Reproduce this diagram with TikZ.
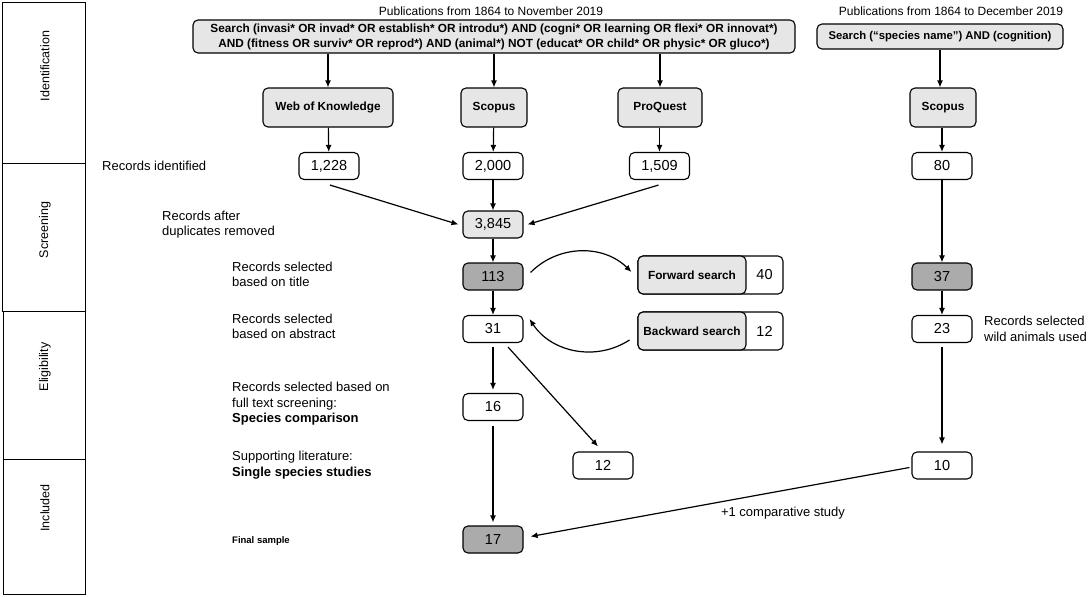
\documentclass[tikz,border=0pt]{standalone}
\usepackage{fontspec}
\setmainfont{Liberation Sans}
\usetikzlibrary{arrows.meta, calc}
\definecolor{lightbox}{HTML}{E6E6E6}
\definecolor{darkbox}{HTML}{ABABAB}

\begin{document}
\begin{tikzpicture}[x=1pt, y=-1pt, >={Latex[length=7pt,width=6pt]},
    box/.style={draw, rounded corners=5pt, line width=1.1pt, align=center, inner sep=2pt},
    graybox/.style={box, fill=lightbox, font=\bfseries\fontsize{11.8}{15}\selectfont},
    numbox/.style={box, fill=white, minimum width=60, minimum height=27,
                   font=\fontsize{14.5}{16}\selectfont},
    note/.style={anchor=west, align=left, inner sep=0pt, font=\fontsize{13}{15.5}\selectfont},
    stagelabel/.style={rotate=90, inner sep=0pt, font=\fontsize{12.5}{15}\selectfont},
    arr/.style={->, line width=1.2pt}]
  \useasboundingbox (0,0) rectangle (1088,597);

  % stages
  \draw[line width=0.8pt] (2,2) rectangle (85,163) (2,163) rectangle (85,311)
        (3,311) rectangle (85,459) (3,459) rectangle (85,594);
  \node[stagelabel] (sid) at (45,66)  {Identification};
  \node[stagelabel] (ssc) at (45,230) {Screening};
  \node[stagelabel] (sel) at (45,367) {Eligibility};
  \node[stagelabel] (sin) at (45,508) {Included};

  % searches
  \node[inner sep=0pt, font=\fontsize{12}{14}\selectfont] (pub) at (491,11) {Publications from 1864 to November 2019};
  \node[inner sep=0pt, font=\fontsize{12}{14}\selectfont] (pub2) at (951,11) {Publications from 1864 to December 2019};
  \node[graybox, minimum width=602, minimum height=33] (search) at (494,36.5)
    {Search (invasi* OR invad* OR establish* OR introdu*) AND (cogni* OR learning OR flexi* OR innovat*)\\
     AND (fitness OR surviv* OR reprod*) AND (animal*) NOT (educat* OR child* OR physic* OR gluco*)};
  \node[graybox, minimum width=246, minimum height=25, font=\bfseries\fontsize{11.3}{14}\selectfont] (search2) at (940,36.5)
    {Search (“species name”) AND (cognition)};

  % databases
  \node[graybox, minimum width=130, minimum height=39] (wok)      at (328,107.5) {Web of Knowledge};
  \node[graybox, minimum width=66,  minimum height=39] (scopus)   at (494,107.5) {Scopus};
  \node[graybox, minimum width=84,  minimum height=39] (proquest) at (660,107.5) {ProQuest};
  \node[graybox, minimum width=66,  minimum height=39] (scopus2)  at (943,107.5) {Scopus};

  % counts
  \node[numbox] (nwok)  at (329,166)   {1,228};
  \node[numbox] (nsco)  at (493,166)   {2,000};
  \node[numbox] (npro)  at (659.5,166) {1,509};
  \node[numbox] (nsco2) at (942,166)   {80};
  \node[numbox, fill=lightbox] (dedup) at (493,224.5) {3,845};
  \node[numbox, fill=darkbox] (title)  at (493,276.5) {113};
  \node[numbox, fill=darkbox] (title2) at (942,276.5) {37};
  \node[numbox] (abstr)   at (493,329)   {31};
  \node[numbox] (abstr2)  at (942,329)   {23};
  \node[numbox] (full)    at (493,407)   {16};
  \node[numbox] (single)  at (603,465.5) {12};
  \node[numbox] (single2) at (942,465.5) {10};
  \node[numbox, fill=darkbox] (final) at (493,539.5) {17};

  % forward and backward search
  \node[box, minimum width=145, minimum height=38] (fwd) at (710.5,275) {};
  \node[graybox, minimum width=108, minimum height=38, anchor=west] (fwdlab) at (fwd.west) {Forward search};
  \node[font=\fontsize{14.5}{16}\selectfont] (fwdnum) at (764.5,275) {40};
  \node[box, minimum width=145, minimum height=38] (bwd) at (710.5,331) {};
  \node[graybox, minimum width=108, minimum height=38, anchor=west] (bwdlab) at (bwd.west) {Backward search};
  \node[font=\fontsize{14.5}{16}\selectfont] (bwdnum) at (764.5,331) {12};

  % notes
  \node[note] (lid)     at (102,166)   {Records identified};
  \node[note] (ldup)    at (162,224.5) {Records after\\duplicates removed};
  \node[note] (ltitle)  at (232,274.5) {Records selected\\based on title};
  \node[note] (labs)    at (232,326.5) {Records selected\\based on abstract};
  \node[note] (lfull)   at (232,404)   {Records selected based on\\full text screening:\\\textbf{Species comparison}};
  \node[note] (lsingle) at (232,465)   {Supporting literature:\\\textbf{Single species studies}};
  \node[note, font=\bfseries\fontsize{9.5}{11}\selectfont] (lfinal) at (232,541) {Final sample};
  \node[note] (lwild)   at (984,329)   {Records selected\\wild animals used};
  \node[inner sep=0pt, font=\fontsize{13}{15.5}\selectfont] (lcomp) at (783,513) {+1 comparative study};

  % connectors
  \draw[arr] (search.south -| wok) -- (wok);
  \draw[arr] (search.south -| scopus) -- (scopus);
  \draw[arr] (search.south -| proquest) -- (proquest);
  \draw[arr] (search2) -- (search2 |- scopus2.north);
  \draw[arr] (wok) -- (nwok);
  \draw[arr] (scopus) -- (nsco);
  \draw[arr] (proquest.south -| npro) -- (npro);
  \draw[arr] (scopus2.south -| nsco2) -- (nsco2);
  \draw[arr] ($(nwok.south)+(1,5)$) -- ($(dedup.west)+(-4,0)$);
  \draw[arr] ($(npro.south)+(-1,5)$) -- ($(dedup.east)+(4,0)$);
  \draw[arr] (nsco) -- (dedup);
  \draw[arr] (dedup) -- (title);
  \draw[arr] (nsco2) -- (title2);
  \draw[arr] ($(title.east)+(7,-4)$) to[bend left=45] ($(fwd.west)+(-6,-3)$);
  \draw[arr] ($(bwd.west)+(-8,9)$) to[bend left=45] ($(abstr.east)+(6,-10)$);
  \draw[arr] (title) -- (abstr);
  \draw[arr] (title2) -- (abstr2);
  \draw[arr] ($(abstr.south)+(15,4)$) -- ($(single.north)+(-5,-5)$);
  \draw[arr] ($(abstr.south)+(0,4)$) -- ($(full.north)+(0,-3)$);
  \draw[arr] ($(full.south)+(0,5)$) -- ($(final.north)+(0,-3)$);
  \draw[arr] ($(abstr2.south)+(0,4)$) -- ($(single2.north)+(0,-7)$);
  \draw[arr] ($(single2.west)+(-2,2)$) -- ($(final.east)+(7,-3)$);
\end{tikzpicture}
\end{document}
